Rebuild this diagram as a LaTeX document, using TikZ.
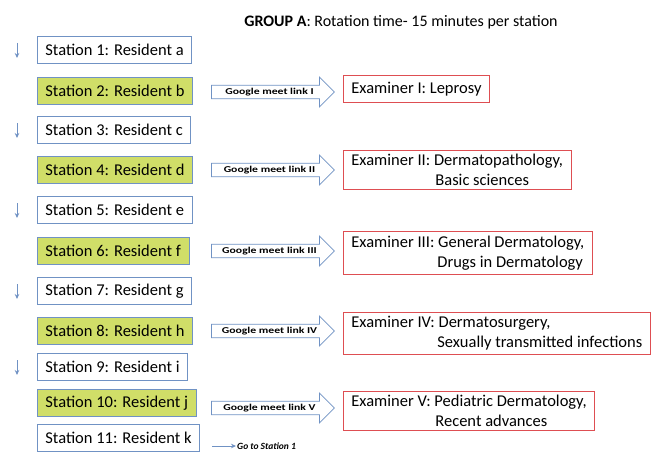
\documentclass[tikz,border=0pt]{standalone}
\usepackage{fontspec}
\setmainfont{Carlito}
\newfontfamily\linkfont[FakeStretch=1.3]{Carlito}
\usepackage{tikz}
\usetikzlibrary{shapes.arrows}
\usetikzlibrary{arrows.meta}
\usepackage{xcolor}

\definecolor{stationblue}{RGB}{112,146,196}
\definecolor{stationgreen}{RGB}{208,222,104}
\definecolor{examred}{RGB}{222,78,82}

\tikzset{
  station/.style={draw=stationblue, thick, anchor=west, minimum height=27pt,
    inner xsep=8pt, font=\fontsize{16.5}{19}\selectfont},
  onair/.style={station, fill=stationgreen},
  meetlink/.style={single arrow, draw=stationblue, fill=white, thick,
    minimum height=123pt, minimum width=26pt, single arrow head extend=8pt,
    inner ysep=2.5pt, inner xsep=2pt, anchor=west,
    font=\linkfont\fontsize{9}{10}\selectfont\bfseries},
  examiner/.style={draw=examred, thick, anchor=west, align=left,
    inner xsep=8pt, inner ysep=4pt, minimum height=27pt,
    font=\fontsize{16.5}{20}\selectfont},
  turn/.style={-{Stealth[length=5pt,width=4.5pt]}, stationblue, thick}
}

\begin{document}
\begin{tikzpicture}[x=1pt,y=-1pt]
\useasboundingbox (0,0) rectangle (653,452);

\node[font=\fontsize{16}{19}\selectfont] (title) at (401,22) {\textbf{GROUP A}: Rotation time- 15 minutes per station};

% stations
\node[station] (s1) at (37,50) {Station 1: Resident a};
\node[onair] (s2) at (37,91) {Station 2: Resident b};
\node[station] (s3) at (37,130) {Station 3: Resident c};
\node[onair] (s4) at (37,170) {Station 4: Resident d};
\node[station] (s5) at (37,210) {Station 5: Resident e};
\node[onair] (s6) at (37,251) {Station 6: Resident f};
\node[station] (s7) at (37,291) {Station 7: Resident g};
\node[onair] (s8) at (37,331) {Station 8: Resident h};
\node[station] (s9) at (37,367) {Station 9: Resident i};
\node[onair] (s10) at (37,403) {Station 10: Resident j};
\node[station] (s11) at (37,438) {Station 11: Resident k};

% google meet links
\node[meetlink] (m1) at (211,92) {Google meet link I};
\node[meetlink] (m2) at (211,170) {Google meet link II};
\node[meetlink] (m3) at (211,251) {Google meet link III};
\node[meetlink] (m4) at (211,331) {Google meet link IV};
\node[meetlink] (m5) at (211,408) {Google meet link V};

% examiners
\node[examiner] (e1) at (343,89) {Examiner I: Leprosy};
\node[examiner] (e2) at (343,170) {Examiner II: Dermatopathology,\\\hspace*{84pt}Basic sciences};
\node[examiner] (e3) at (343,253) {Examiner III: General Dermatology,\\\hspace*{86pt}Drugs in Dermatology};
\node[examiner] (e4) at (343,333) {Examiner IV: Dermatosurgery,\\\hspace*{86pt}Sexually transmitted infections};
\node[examiner] (e5) at (343,411) {Examiner V: Pediatric Dermatology,\\\hspace*{84pt}Recent advances};

% small arrows for waiting stations
\draw[turn] (17,43) -- (17,58);
\draw[turn] (17,123) -- (17,138);
\draw[turn] (17,203) -- (17,218);
\draw[turn] (17,284) -- (17,299);
\draw[turn] (17,360) -- (17,375);

\coordinate (back) at (212,446);
\node[anchor=west, inner sep=1pt, font=\fontsize{9.5}{10}\selectfont\bfseries\itshape] (loop) at (236,446) {Go to Station 1};
\draw[turn] (back) -- (loop.west);

\end{tikzpicture}
\end{document}
